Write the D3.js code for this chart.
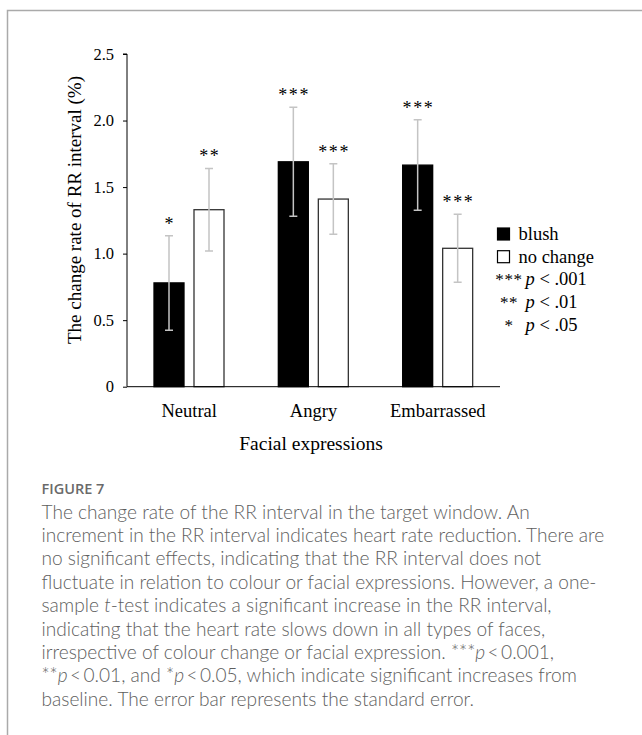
<!DOCTYPE html>
<html>
<head>
<meta charset="utf-8">
<script src="https://cdn.jsdelivr.net/npm/d3@7"></script>
<style>
  body { margin: 0; background: #fff; }
  svg { display: block; }
  .serif { font-family: "Liberation Serif", "Times New Roman", serif; fill: #000; }
  .caption { font-family: Lato, "Open Sans", sans-serif; font-weight: 300; fill: #5e5e5e; }
</style>
</head>
<body>
<div id="chart"></div>
<script>
// data
var categories = ["Neutral", "Angry", "Embarrassed"];
var series = ["blush", "no change"];
var blushMeans = [0.78, 1.69, 1.665];
var blushSE = [0.355, 0.41, 0.34];
var noChangeMeans = [1.33, 1.41, 1.04];
var noChangeSE = [0.31, 0.265, 0.255];
var blushSig = ["*", "***", "***"];
var noChangeSig = ["**", "***", "***"];
var yTicks = [0, 0.5, 1.0, 1.5, 2.0, 2.5];
var sigLegend = [["***", "p", " < .001"], ["**", "p", " < .01"], ["*", "p", " < .05"]];

var captionTitle = "FIGURE 7";
// each line is a list of [text, italic]
var captionLines = [
    [["The change rate of the RR interval in the target window. An", false]],
    [["increment in the RR interval indicates heart rate reduction. There are", false]],
    [["no significant effects, indicating that the RR interval does not", false]],
    [["fluctuate in relation to colour or facial expressions. However, a one-", false]],
    [["sample ", false], ["t", true], ["-test indicates a significant increase in the RR interval,", false]],
    [["indicating that the heart rate slows down in all types of faces,", false]],
    [["irrespective of colour change or facial expression. ***", false], ["p", true], ["\u2009<\u20090.001,", false]],
    [["**", false], ["p", true], ["\u2009<\u20090.01, and *", false], ["p", true], ["\u2009<\u20090.05, which indicate significant increases from", false]],
    [["baseline. The error bar represents the standard error.", false]]
];

var W = 642, H = 735;

var svg = d3.select("#chart").append("svg")
    .attr("width", W)
    .attr("height", H);

//frame, top and left only
svg.append("path")
    .attr("d", "M7.5," + H + "V10.5H" + W)
    .style("fill", "none")
    .style("stroke", "#aaa")
    .style("stroke-width", 1.5);

//scales
var x0 = d3.scaleBand().domain(categories).range([127, 500]);
var x1 = d3.scaleBand().domain(series).range([27, 97]).paddingInner(0.25);
var y = d3.scaleLinear().domain([0, 2.5]).range([386.7, 54]);

var rows = categories.map(function(c, i) {
    return {
        cat: c,
        bars: [
            {s: "blush", v: blushMeans[i], se: blushSE[i], sig: blushSig[i]},
            {s: "no change", v: noChangeMeans[i], se: noChangeSE[i], sig: noChangeSig[i]}
        ]
    };
});

var groups = svg.selectAll(".grp")
    .data(rows)
    .enter().append("g")
    .attr("class", "grp")
    .attr("transform", function(d) { return "translate(" + x0(d.cat) + ",0)"; });

var bar = groups.selectAll(".bar")
    .data(function(d) { return d.bars; })
    .enter().append("g")
    .attr("class", "bar");

bar.append("rect")
    .attr("x", function(d) { return x1(d.s); })
    .attr("width", x1.bandwidth())
    .attr("y", function(d) { return y(d.v); })
    .attr("height", function(d) { return y(0) - y(d.v); })
    .style("fill", function(d) { return d.s == "blush" ? "#000" : "#fff"; })
    .style("stroke", function(d) { return d.s == "blush" ? "#000" : "#333"; })
    .style("stroke-width", 1.3);

//error bars
var cap = 4;
bar.append("path")
    .attr("d", function(d) {
        var cx = x1(d.s) + x1.bandwidth() / 2,
            t = y(d.v + d.se), b = y(d.v - d.se);
        return "M" + cx + "," + t + "V" + b +
            "M" + (cx - cap) + "," + t + "H" + (cx + cap) +
            "M" + (cx - cap) + "," + b + "H" + (cx + cap);
    })
    .style("fill", "none")
    .style("stroke", "#c4c4c4")
    .style("stroke-width", 1.5);

//significance stars
bar.append("text")
    .attr("class", "serif")
    .attr("x", function(d) { return x1(d.s) + x1.bandwidth() / 2 + 0.8; })
    .attr("y", function(d) { return y(d.v + d.se) - 6; })
    .attr("text-anchor", "middle")
    .style("font-size", "18px")
    .style("letter-spacing", "1.6px")
    .text(function(d) { return d.sig; });

//axes
var yAxis = d3.axisLeft(y)
    .tickValues(yTicks)
    .tickSize(4)
    .tickPadding(9)
    .tickFormat(function(d) { return d === 0 ? "0" : d3.format(".1f")(d); });

var gy = svg.append("g")
    .attr("transform", "translate(127,0)")
    .call(yAxis);
gy.select(".domain").attr("d", "M-4," + y(2.5) + "H0V" + y(0));
gy.selectAll("text")
    .attr("class", "serif")
    .style("font-size", "16.5px")
    .style("font-family", "'Liberation Serif', serif");

var xAxis = d3.axisBottom(x0).tickSize(0).tickPadding(0);
var gx = svg.append("g")
    .attr("transform", "translate(0," + y(0) + ")")
    .call(xAxis);
gx.select(".domain").attr("d", "M127,0H500");
gx.selectAll("text")
    .attr("dy", null)
    .attr("y", 30)
    .style("font-size", "18.5px")
    .style("fill", "#000")
    .style("font-family", "'Liberation Serif', serif");

//axis titles
svg.append("text")
    .attr("class", "serif")
    .attr("transform", "translate(80.5,210) rotate(-90)")
    .attr("text-anchor", "middle")
    .style("font-size", "19px")
    .text("The change rate of RR interval (%)");

svg.append("text")
    .attr("class", "serif")
    .attr("x", 311)
    .attr("y", 450)
    .attr("text-anchor", "middle")
    .style("font-size", "19.5px")
    .text("Facial expressions");

//legend
var legend = svg.append("g").attr("transform", "translate(497.5,0)");
var legendRows = 22.7, legendTop = 240;

legend.selectAll(".key")
    .data(series)
    .enter().append("rect")
    .attr("class", "key")
    .attr("x", 0)
    .attr("y", function(d, i) { return legendTop + i * legendRows - 12; })
    .attr("width", 12)
    .attr("height", 12)
    .style("fill", function(d, i) { return i == 0 ? "#000" : "#fff"; })
    .style("stroke", "#000")
    .style("stroke-width", 1.2);

legend.selectAll(".keytext")
    .data(series)
    .enter().append("text")
    .attr("class", "serif")
    .attr("x", 21)
    .attr("y", function(d, i) { return legendTop + i * legendRows; })
    .style("font-size", "18.5px")
    .text(function(d) { return d; });

var sig = legend.selectAll(".sig")
    .data(sigLegend)
    .enter().append("g")
    .attr("class", "sig")
    .attr("transform", function(d, i) { return "translate(0," + (legendTop + (i + 2) * legendRows) + ")"; });

sig.append("text")
    .attr("class", "serif")
    .attr("x", 11.5)
    .attr("text-anchor", "middle")
    .style("font-size", "17px")
    .style("letter-spacing", "0.6px")
    .text(function(d) { return d[0]; });

var pt = sig.append("text")
    .attr("class", "serif")
    .attr("x", 28)
    .style("font-size", "18.5px");
pt.append("tspan").style("font-style", "italic").text(function(d) { return d[1]; });
pt.append("tspan").text(function(d) { return d[2]; });

//caption
svg.append("text")
    .attr("class", "caption")
    .attr("x", 41.5)
    .attr("y", 493.5)
    .style("font-family", "'Open Sans', sans-serif")
    .style("font-size", "14.5px")
    .style("font-weight", 600)
    .style("fill", "#6a6a6a")
    .text(captionTitle);

var cap0 = 518.5, capStep = 23.4;
var lines = svg.selectAll(".capline")
    .data(captionLines)
    .enter().append("text")
    .attr("class", "caption capline")
    .attr("x", 41.5)
    .attr("y", function(d, i) { return cap0 + i * capStep; })
    .style("font-size", "16px");

lines.selectAll("tspan")
    .data(function(d) { return d; })
    .enter().append("tspan")
    .style("font-style", function(d) { return d[1] ? "italic" : "normal"; })
    .text(function(d) { return d[0]; });

//size the caption so that the second line runs to where it ends in the figure
var w2 = lines.filter(function(d, i) { return i == 1; }).node().getComputedTextLength();
lines.style("font-size", (16 * 563 / w2) + "px");
</script>
</body>
</html>
